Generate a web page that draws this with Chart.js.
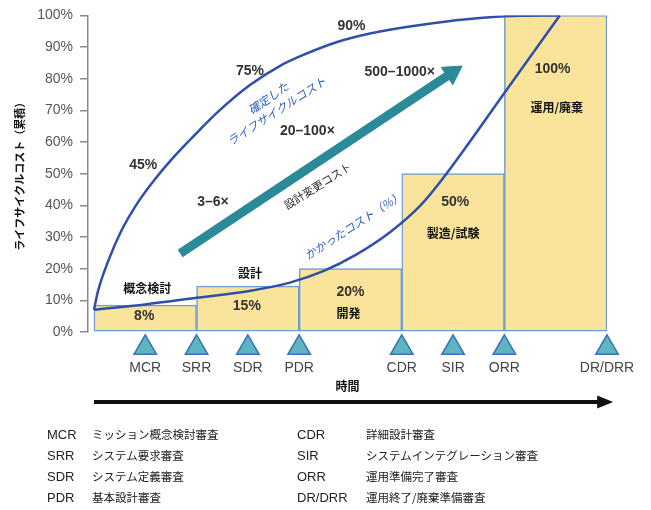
<!DOCTYPE html>
<html lang="ja">
<head>
<meta charset="utf-8">
<script src="https://cdn.jsdelivr.net/npm/chart.js@4.4.1/dist/chart.umd.min.js"></script>
<style>
  html, body { margin: 0; padding: 0; background: #fff; }
  #wrap { position: relative; width: 651px; height: 510px; }
  #legend { position: absolute; left: 0; top: 0; width: 651px; height: 510px; pointer-events: none; color: #222; }
  .cell { position: absolute; white-space: nowrap; line-height: 21px; height: 21px; }
  .abbr { font-family: "Liberation Sans", Arial, sans-serif; font-size: 13px; }
  .desc { font-family: "Noto Sans CJK JP", sans-serif; font-size: 11.5px; }
</style>
</head>
<body>
<div id="wrap">
  <canvas id="chart" width="651" height="510"></canvas>
  <div id="legend"></div>
</div>
<script>
const SANS = '"Liberation Sans", Arial, "Noto Sans CJK JP", sans-serif';
const JP = '"Noto Sans CJK JP", "Liberation Sans", sans-serif';

// phases (bars), x in phase units: bar i spans i..i+1
const phases = ['概念検討', '設計', '開発', '製造/試験', '運用/廃棄'];
const phaseCost = [8.5, 14.5, 20, 50, 100];
const phaseCostLabels = ['8%', '15%', '20%', '50%', '100%'];

// y axis ticks (%)
const yTicks = [0, 10, 20, 30, 40, 50, 60, 70, 80, 90, 100];

// review milestones
const milestones = ['MCR', 'SRR', 'SDR', 'PDR', 'CDR', 'SIR', 'ORR', 'DR/DRR'];
const milestonePos = [0.5, 1, 1.5, 2, 3, 3.5, 4, 5];
const milestoneNames = ['ミッション概念検討審査', 'システム要求審査', 'システム定義審査', '基本設計審査',
  '詳細設計審査', 'システムインテグレーション審査', '運用準備完了審査', '運用終了/廃棄準備審査'];

// committed life-cycle cost curve
const committedX = [0, 0.04, 0.14, 0.26, 0.43, 0.6, 0.77, 1.03, 1.2, 1.52, 1.81, 2.04, 2.37, 2.69, 3.18, 4.0, 4.54];
const committedY = [7, 13, 22.5, 31.5, 41, 48.5, 55, 63.8, 69.3, 78, 84, 87.5, 91.6, 94.3, 97, 99.7, 100];

// incurred cost curve
const incurredX = [0, 0.5, 1, 1.5, 1.91, 2.235, 2.56, 2.885, 3.18, 3.4, 4, 4.54];
const incurredY = [7, 8.7, 10.8, 12.9, 15.6, 19.2, 24.5, 31.5, 39.9, 48.5, 75.5, 100];

// cost-to-change trend arrow (start, head)
const trendX = [0.84, 3.49];
const trendY = [24.8, 81.9];

// text notes placed in data coordinates
const notes = [
  { text: '45%', x: 0.48, y: 52.8, style: 'num' },
  { text: '75%', x: 1.52, y: 82.4, style: 'num' },
  { text: '90%', x: 2.51, y: 96.5, style: 'num' },
  { text: '3–6×', x: 1.16, y: 40.9, style: 'num' },
  { text: '20–100×', x: 2.08, y: 63.5, style: 'num' },
  { text: '500–1000×', x: 2.98, y: 82.1, style: 'num' },
  { text: '確定した', x: 1.70, y: 73.9, style: 'blue', rot: -35 },
  { text: 'ライフサイクルコスト', x: 1.78, y: 69.8, style: 'blue', rot: -33 },
  { text: '設計変更コスト', x: 2.18, y: 46.2, style: 'dark', rot: -32 },
  { text: 'かかったコスト（%）', x: 2.53, y: 33.6, style: 'blue', rot: -33 },
  { text: phases[0], x: 0.52, y: 13.8, style: 'jpb' },
  { text: phaseCostLabels[0], x: 0.49, y: 5.0, style: 'num' },
  { text: phases[1], x: 1.52, y: 18.6, style: 'jpb' },
  { text: phaseCostLabels[1], x: 1.49, y: 8.2, style: 'num' },
  { text: phaseCostLabels[2], x: 2.50, y: 12.6, style: 'num' },
  { text: phases[2], x: 2.48, y: 6.0, style: 'jpb' },
  { text: phaseCostLabels[3], x: 3.52, y: 40.9, style: 'num' },
  { text: phases[3], x: 3.50, y: 31.1, style: 'jpb' },
  { text: phaseCostLabels[4], x: 4.47, y: 83.0, style: 'num' },
  { text: phases[4], x: 4.51, y: 71.0, style: 'jpb' }
];

const noteStyles = {
  num: { font: 'bold 14px ' + SANS, color: '#333' },
  jpb: { font: 'bold 12px ' + JP, color: '#111' },
  blue: { font: 'italic 11.5px ' + JP, color: '#2a5fbf' },
  dark: { font: '11px ' + JP, color: '#222' }
};

const X_MIN = -0.058, X_MAX = 5;
const MARKER_LEVEL = -5;

const notesPlugin = {
  id: 'notes',
  afterDatasetsDraw(chart) {
    const { ctx, scales: { x, y }, chartArea } = chart;
    ctx.save();
    // milestone markers below the axis (outside the chart area, so drawn here)
    const marker = { pointStyle: 'triangle', radius: 13, rotation: 0, borderWidth: 1.5 };
    ctx.fillStyle = '#5cb5c1';
    ctx.strokeStyle = '#3c72b8';
    ctx.lineWidth = 1.5;
    milestonePos.forEach(p => {
      Chart.helpers.drawPoint(ctx, marker, x.getPixelForValue(p), y.getPixelForValue(MARKER_LEVEL));
    });
    notes.forEach(n => {
      const st = noteStyles[n.style];
      ctx.save();
      ctx.translate(x.getPixelForValue(n.x), y.getPixelForValue(n.y));
      ctx.rotate((n.rot || 0) * Math.PI / 180);
      ctx.font = st.font;
      ctx.fillStyle = st.color;
      ctx.textAlign = 'center';
      ctx.textBaseline = 'middle';
      ctx.fillText(n.text, 0, 0);
      ctx.restore();
    });
    // time arrow under the axis
    const ay = chartArea.bottom + 70;
    const x0 = x.getPixelForValue(0), x1 = x.getPixelForValue(5.06);
    ctx.strokeStyle = '#111';
    ctx.fillStyle = '#111';
    ctx.lineWidth = 4;
    ctx.beginPath(); ctx.moveTo(x0, ay); ctx.lineTo(x1 - 12, ay); ctx.stroke();
    ctx.beginPath(); ctx.moveTo(x1, ay); ctx.lineTo(x1 - 16, ay - 6.5); ctx.lineTo(x1 - 16, ay + 6.5); ctx.closePath(); ctx.fill();
    ctx.restore();
  }
};

const xy = (xs, ys) => xs.map((v, i) => ({ x: v, y: ys[i] }));

new Chart(document.getElementById('chart'), {
  data: {
    datasets: [
      {
        type: 'bar',
        data: phaseCost.map((v, i) => ({ x: i + 0.5, y: v })),
        backgroundColor: '#fae49c',
        borderColor: '#6d9bd6',
        borderWidth: 1.5,
        borderSkipped: false,
        barPercentage: 1,
        categoryPercentage: 1,
        order: 10
      },
      {
        type: 'line',
        data: xy(committedX, committedY),
        borderColor: '#2f4fa8',
        borderWidth: 2.5,
        pointRadius: 0,
        cubicInterpolationMode: 'monotone',
        order: 2
      },
      {
        type: 'line',
        data: xy(incurredX, incurredY),
        borderColor: '#2f4fa8',
        borderWidth: 2.5,
        pointRadius: 0,
        cubicInterpolationMode: 'monotone',
        order: 2
      },
      {
        type: 'line',
        data: xy(trendX, trendY),
        borderColor: '#2b8a97',
        borderWidth: 9,
        borderCapStyle: 'butt',
        pointRadius: [0, 12],
        pointStyle: 'triangle',
        pointBackgroundColor: '#2b8a97',
        pointBorderColor: '#2b8a97',
        pointBorderWidth: 1,
        pointRotation: (c) => {
          const xs = c.chart.scales.x, ys = c.chart.scales.y;
          const dx = xs.getPixelForValue(trendX[1]) - xs.getPixelForValue(trendX[0]);
          const dy = ys.getPixelForValue(trendY[1]) - ys.getPixelForValue(trendY[0]);
          return Math.atan2(dx, -dy) * 180 / Math.PI;
        },
        order: 1
      }
    ]
  },
  options: {
    responsive: false,
    animation: false,
    events: [],
    plugins: { legend: { display: false }, tooltip: { enabled: false } },
    layout: { padding: { left: 0, right: 44, top: 14, bottom: 116 } },
    scales: {
      // phase axis: one unit per phase, invisible
      x: {
        type: 'linear', position: 'bottom', min: X_MIN, max: X_MAX, offset: false,
        afterBuildTicks: s => { s.ticks = [0, 1, 2, 3, 4, 5].map(v => ({ value: v })); },
        afterFit: s => { s.height = 0; s.paddingLeft = 0; s.paddingRight = 0; },
        ticks: { display: false },
        grid: { display: false, drawTicks: false, offset: false },
        border: { display: false }
      },
      // milestone axis with the review labels
      xm: {
        type: 'linear', position: 'bottom', min: X_MIN, max: X_MAX, offset: false,
        afterBuildTicks: s => { s.ticks = milestonePos.map(v => ({ value: v })); },
        afterFit: s => { s.height = 62; s.paddingLeft = 0; s.paddingRight = 0; },
        ticks: {
          autoSkip: false, maxRotation: 0, minRotation: 0, padding: 28,
          callback: (v, i) => milestones[i],
          font: { family: SANS, size: 14 }, color: '#444'
        },
        grid: { display: false, drawTicks: false },
        border: { display: false },
        title: {
          display: true, text: '時間', color: '#111',
          font: { family: JP, size: 12, weight: 'bold' },
          padding: { top: 3, bottom: 0 }
        }
      },
      y: {
        type: 'linear', min: 0, max: 100,
        afterBuildTicks: s => { s.ticks = yTicks.map(v => ({ value: v })); },
        afterFit: s => { s.width = 88; },
        ticks: {
          padding: 7, callback: v => v + '%',
          font: { family: SANS, size: 14 }, color: '#555'
        },
        grid: { drawOnChartArea: false, tickLength: 8, color: '#888', lineWidth: 1.5 },
        border: { color: '#888', width: 1.5 },
        title: {
          display: true, text: 'ライフサイクルコスト（累積）', color: '#111',
          font: { family: JP, size: 11, weight: 'bold' },
          padding: { top: 13, bottom: 0 }
        }
      }
    }
  },
  plugins: [notesPlugin]
});

// abbreviation table under the chart
const legend = document.getElementById('legend');
const rowTop = [424, 445, 466, 487];
milestones.forEach((m, i) => {
  const col = i < 4 ? 0 : 1;
  const top = rowTop[i % 4];
  const a = document.createElement('div');
  a.className = 'cell abbr';
  a.style.left = (col ? 297 : 47) + 'px';
  a.style.top = top + 'px';
  a.textContent = m;
  const d = document.createElement('div');
  d.className = 'cell desc';
  d.style.left = (col ? 366 : 92) + 'px';
  d.style.top = top + 'px';
  d.textContent = milestoneNames[i];
  legend.appendChild(a);
  legend.appendChild(d);
});
</script>
</body>
</html>
